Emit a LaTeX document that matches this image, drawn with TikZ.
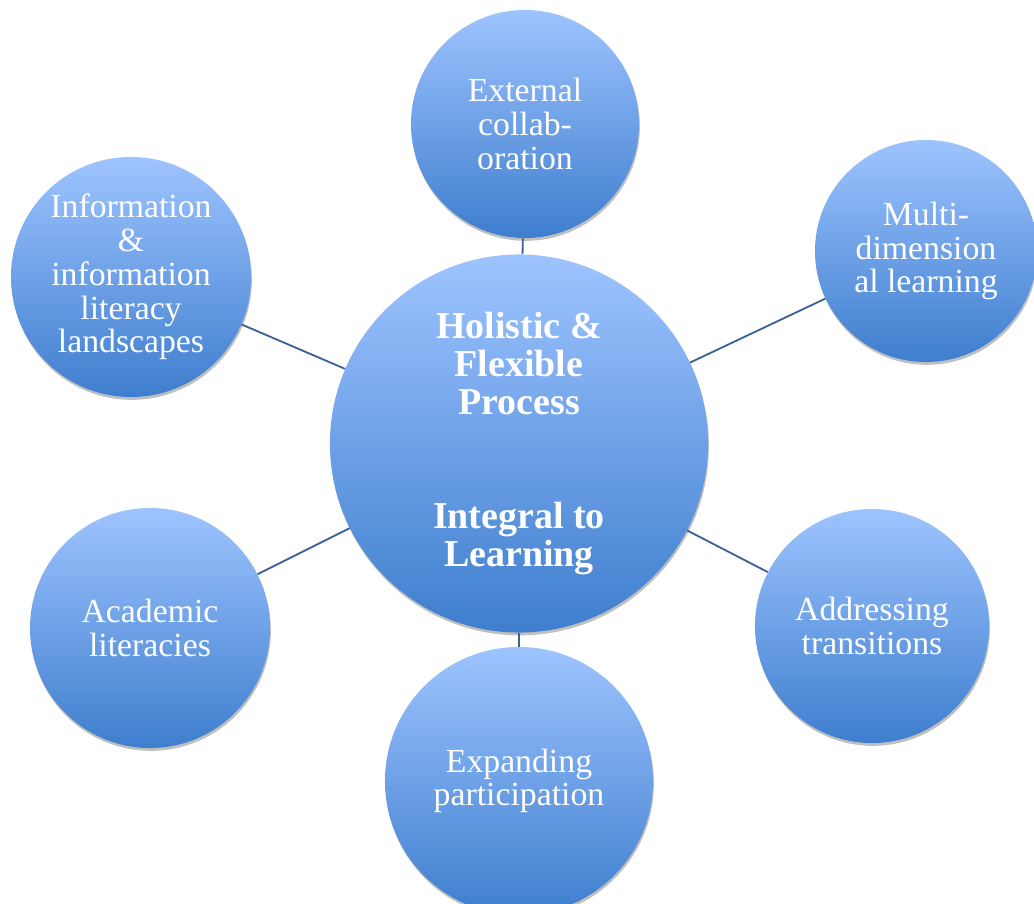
\documentclass[tikz,border=0pt]{standalone}
\usepackage{fontspec}
\setmainfont{Liberation Serif}
\usetikzlibrary{shadows}

\definecolor{balltop}{RGB}{158,196,255}
\definecolor{ballbottom}{RGB}{62,126,206}
\definecolor{linkblue}{RGB}{58,98,150}

\tikzset{
  ball/.style={circle, inner sep=0pt, align=center, text=white,
    top color=balltop, bottom color=ballbottom,
    drop shadow={shadow xshift=0.6pt, shadow yshift=-2pt, opacity=0.25, fill=black}},
  sat/.style={ball, font=\fontsize{24}{24}\selectfont},
  core/.style={ball, font=\fontsize{27}{27}\selectfont\bfseries},
  link/.style={draw=linkblue, line width=1.3pt}
}

\begin{document}
\begin{tikzpicture}[x=0.025cm, y=0.025cm]
                % 画像の大きさを固定
                \useasboundingbox (0,0) rectangle (1034,903);

                % 周りの円
                \node[sat, minimum size=5.7cm] (ext) at (525,779) {External\\collab-\\oration};
                \node[sat, minimum size=5.55cm] (multi) at (926,652) {Multi-\\dimension\\al learning};
                \node[sat, minimum size=6cm] (info) at (131,626) {Information\\\&\\information\\literacy\\landscapes};
                \node[sat, minimum size=6cm] (acad) at (150,275) {Academic\\literacies};
                \node[sat, minimum size=5.85cm] (addr) at (872,277) {Addressing\\transitions};
                \node[sat, minimum size=6.7cm] (expand) at (519,122) {Expanding\\participation};

                % 中央の円
                \node[core, minimum size=9.45cm] (hub) at (519,459.5)
                    {Holistic \&\\Flexible\\Process\\[54pt]Integral to\\Learning};

                % 中央から各円へ線を描画
                \foreach \s in {ext,multi,info,acad,addr,expand}
                    \draw[link] (hub) -- (\s);
            \end{tikzpicture}
\end{document}
